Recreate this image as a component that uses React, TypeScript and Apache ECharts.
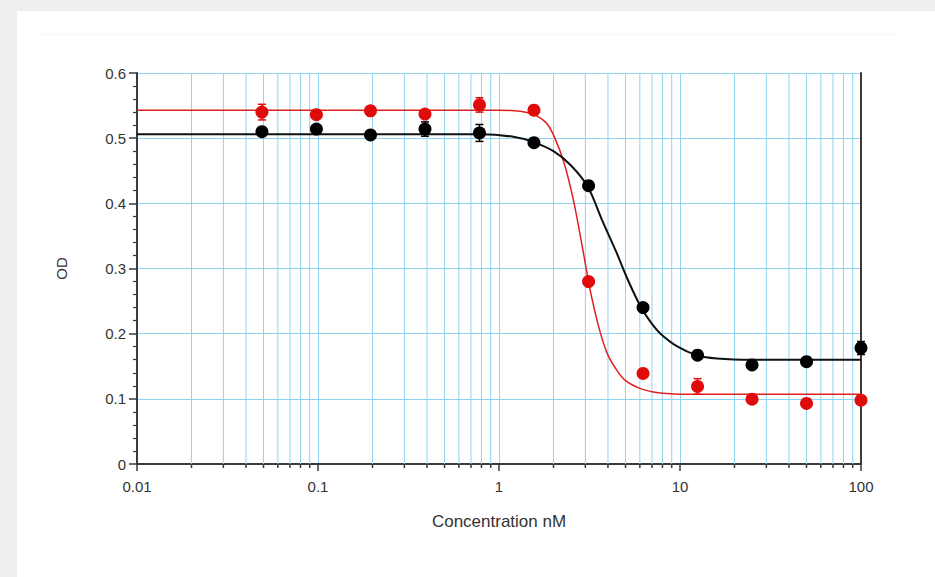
import React, { useEffect, useRef } from "react";
import * as echarts from "echarts";

// Concentrations (nM)
const concentrations = [0.049, 0.098, 0.195, 0.39, 0.78, 1.56, 3.125, 6.25, 12.5, 25, 50, 100];
// Measured OD values
const redValues = [0.540, 0.536, 0.542, 0.537, 0.551, 0.543, 0.280, 0.139, 0.119, 0.0995, 0.093, 0.098];
const redErrors = [0.012, 0.004, 0.007, 0.006, 0.011, 0.007, 0.006, 0.003, 0.012, 0.003, 0.003, 0.004];
const blackValues = [0.510, 0.514, 0.505, 0.514, 0.508, 0.493, 0.427, 0.240, 0.167, 0.152, 0.157, 0.178];
const blackErrors = [0.004, 0.005, 0.003, 0.011, 0.013, 0.004, 0.004, 0.005, 0.004, 0.003, 0.003, 0.010];

// Fitted curves
const redCurveX = [0.01, 1.0, 1.5, 1.8, 2.0, 2.3, 2.6, 2.9, 3.2, 3.6, 4.0, 4.5, 5.0, 6.0, 7.0, 8.5, 10, 100];
const redCurveY = [0.543, 0.543, 0.538, 0.525, 0.505, 0.46, 0.40, 0.33, 0.265, 0.205, 0.167, 0.143, 0.128, 0.116, 0.111, 0.108, 0.107, 0.107];
const blackCurveX = [0.01, 0.8, 1.2, 1.55, 2.0, 2.5, 3.1, 3.7, 4.45, 5.2, 6.1, 7.0, 7.8, 9.6, 12.4, 16, 25, 100];
const blackCurveY = [0.506, 0.506, 0.502, 0.494, 0.480, 0.458, 0.425, 0.375, 0.325, 0.28, 0.240, 0.215, 0.200, 0.181, 0.167, 0.162, 0.160, 0.160];

// Axis ticks
const xTickLabels = ["0.01", "0.1", "1", "10", "100"];
const decades = [0.01, 0.1, 1, 10];
const minorMultipliers = [2, 3, 4, 5, 6, 7, 8, 9];

const RED = "#e00b0b";
const BLACK = "#000000";
const GRID_BLUE = "#8fd4f0";
const AXIS = "#3a3a3a";
const FONT = "'Liberation Sans', Arial, sans-serif";

export default function App() {
  const ref = useRef<HTMLDivElement>(null);

  useEffect(() => {
    if (!ref.current) return;
    const chart = echarts.init(ref.current, null, { renderer: "svg" });

    const minorValues: number[] = [];
    decades.forEach((d) => minorMultipliers.forEach((m) => minorValues.push(+(d * m).toPrecision(3))));

    const curve = (xs: number[], ys: number[]) => xs.map((x, i) => [x, ys[i]]);
    const pts = (vals: number[]) => concentrations.map((x, i) => [x, vals[i]]);
    const errData = (vals: number[], errs: number[]) =>
      concentrations.map((x, i) => [x, vals[i] - errs[i], vals[i] + errs[i]]);

    const errorBarSeries = (name: string, vals: number[], errs: number[], color: string) => ({
      type: "custom",
      name,
      z: 5,
      data: errData(vals, errs),
      encode: { x: 0, y: [1, 2] },
      renderItem: (params: any, api: any) => {
        const x = api.value(0);
        const lo = api.coord([x, api.value(1)]);
        const hi = api.coord([x, api.value(2)]);
        const hw = 4;
        const style = { stroke: color, lineWidth: 1.5 };
        return {
          type: "group",
          children: [
            { type: "line", shape: { x1: lo[0], y1: lo[1], x2: hi[0], y2: hi[1] }, style },
            { type: "line", shape: { x1: lo[0] - hw, y1: lo[1], x2: lo[0] + hw, y2: lo[1] }, style },
            { type: "line", shape: { x1: hi[0] - hw, y1: hi[1], x2: hi[0] + hw, y2: hi[1] }, style },
          ],
        };
      },
    });

    chart.setOption({
      animation: false,
      backgroundColor: "transparent",
      textStyle: { fontFamily: FONT },
      grid: { left: 137, right: 74, top: 73, bottom: 113, containLabel: false, outerBoundsMode: "none" },
      xAxis: [
        {
          type: "log",
          logBase: 10,
          min: 0.01,
          max: 100,
          name: "Concentration nM",
          nameLocation: "middle",
          nameGap: 49,
          nameTextStyle: { color: "#333", fontSize: 17, fontFamily: FONT },
          axisLine: { show: true, lineStyle: { color: AXIS, width: 2 } },
          axisTick: { show: true, length: 7, lineStyle: { color: AXIS, width: 1.5 } },
          axisLabel: {
            color: "#333",
            fontSize: 15,
            margin: 15,
            fontFamily: FONT,
            formatter: (v: number) => {
              const idx = Math.round(Math.log10(v)) + 2;
              return xTickLabels[idx] ?? "";
            },
          },
          splitLine: { show: true, lineStyle: { color: GRID_BLUE, width: 1 } },
        },
        {
          type: "log",
          logBase: 10,
          min: 0.01,
          max: 100,
          position: "top",
          axisLine: { show: true, lineStyle: { color: AXIS, width: 2 } },
          axisTick: { show: false },
          axisLabel: { show: false },
          splitLine: { show: false },
        },
      ],
      yAxis: [
        {
          type: "value",
          min: 0,
          max: 0.6,
          interval: 0.1,
          name: "OD",
          nameLocation: "middle",
          nameGap: 68,
          nameRotate: 90,
          nameTextStyle: { color: "#333", fontSize: 15, fontFamily: FONT },
          axisLine: { show: true, lineStyle: { color: AXIS, width: 2 } },
          axisTick: { show: true, length: 8, lineStyle: { color: AXIS, width: 1.5 } },
          minorTick: { show: true, splitNumber: 5, length: 4, lineStyle: { color: AXIS, width: 1.2 } },
          axisLabel: {
            color: "#333",
            fontSize: 15,
            margin: 11,
            fontFamily: FONT,
            formatter: (v: number) => (v === 0 ? "0" : v.toFixed(1)),
          },
          splitLine: { show: true, lineStyle: { color: GRID_BLUE, width: 1 } },
        },
        {
          type: "value",
          min: 0,
          max: 0.6,
          interval: 0.1,
          position: "right",
          axisLine: { show: true, lineStyle: { color: AXIS, width: 2 } },
          axisTick: { show: false },
          axisLabel: { show: false },
          splitLine: { show: false },
        },
      ],
      series: [
        {
          type: "custom",
          name: "minorGrid",
          z: 1,
          silent: true,
          clip: false,
          data: minorValues.map((v) => [v]),
          encode: { x: 0 },
          renderItem: (params: any, api: any) => {
            const v = api.value(0);
            const top = api.coord([v, 0.6]);
            const bot = api.coord([v, 0]);
            return {
              type: "group",
              children: [
                {
                  type: "line",
                  shape: { x1: bot[0], y1: top[1], x2: bot[0], y2: bot[1] },
                  style: { stroke: GRID_BLUE, lineWidth: 1 },
                },
                {
                  type: "line",
                  shape: { x1: bot[0], y1: bot[1], x2: bot[0], y2: bot[1] + 4 },
                  style: { stroke: AXIS, lineWidth: 1.5 },
                },
              ],
            };
          },
        },
        {
          type: "line",
          name: "redFit",
          z: 2,
          data: curve(redCurveX, redCurveY),
          smooth: 0.3,
          showSymbol: false,
          symbol: "none",
          lineStyle: { color: "#e02020", width: 1.5 },
        },
        {
          type: "line",
          name: "blackFit",
          z: 2,
          data: curve(blackCurveX, blackCurveY),
          smooth: 0.3,
          showSymbol: false,
          symbol: "none",
          lineStyle: { color: "#111", width: 2 },
        },
        errorBarSeries("redErr", redValues, redErrors, RED),
        errorBarSeries("blackErr", blackValues, blackErrors, BLACK),
        {
          type: "scatter",
          name: "red",
          z: 4,
          data: pts(redValues),
          symbol: "circle",
          symbolSize: 13,
          itemStyle: { color: RED, opacity: 1 },
        },
        {
          type: "scatter",
          name: "black",
          z: 4,
          data: pts(blackValues),
          symbol: "circle",
          symbolSize: 13,
          itemStyle: { color: BLACK, opacity: 1 },
        },
      ],
    });

    return () => chart.dispose();
  }, []);

  return (
    <div style={{ position: "fixed", left: 0, top: 0, width: 935, height: 577, background: "#eeeeee", overflow: "hidden" }}>
      <div style={{ position: "absolute", left: 17, top: 11, width: 918, height: 566, background: "#ffffff" }} />
      <div style={{ position: "absolute", left: 36, top: 34, width: 864, height: 1, background: "#f6f6f6" }} />
      <div ref={ref} style={{ position: "absolute", left: 0, top: 0, width: 935, height: 577 }} />
    </div>
  );
}
